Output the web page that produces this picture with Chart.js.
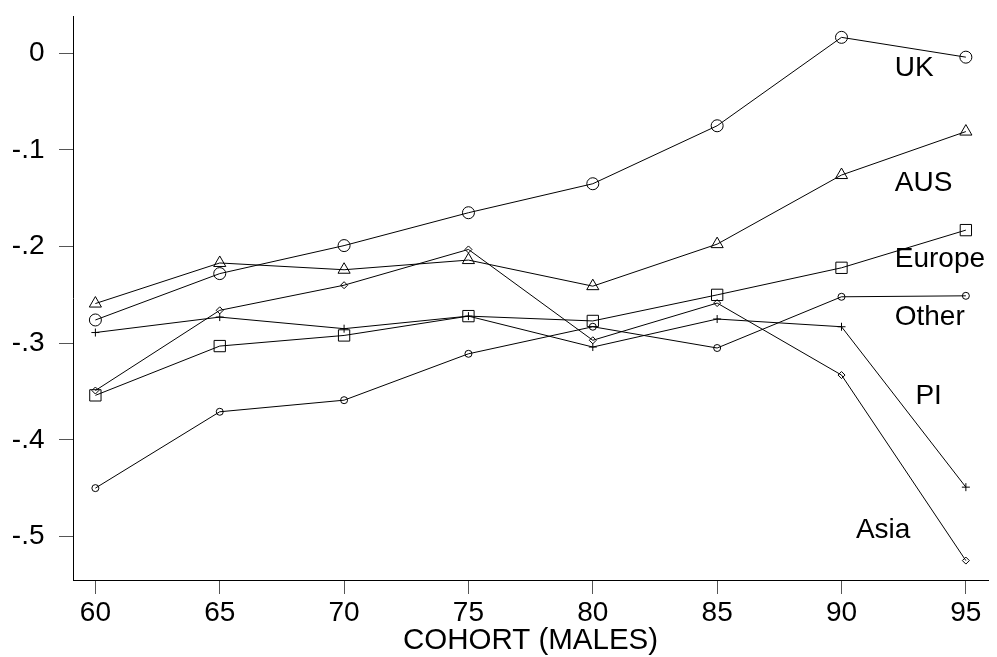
<!DOCTYPE html>
<html>
<head>
<meta charset="utf-8">
<script src="https://cdn.jsdelivr.net/npm/chart.js@4"></script>
<style>
  html, body { margin: 0; padding: 0; background: #fff; }
  #wrap { width: 997px; height: 657px; }
</style>
</head>
<body>
<div id="wrap"><canvas id="cohortChart" width="997" height="657"></canvas></div>
<script>
// cohorts on the x axis
const cohorts = [60, 65, 70, 75, 80, 85, 90, 95];

// one series per birthplace group
const ukVals     = [-0.276, -0.228, -0.199, -0.165, -0.135, -0.075, 0.0165, -0.004];
const ausVals    = [-0.259, -0.217, -0.224, -0.214, -0.241, -0.1975, -0.126, -0.081];
const europeVals = [-0.354, -0.303, -0.292, -0.272, -0.277, -0.250, -0.222, -0.183];
const otherVals  = [-0.450, -0.371, -0.359, -0.311, -0.283, -0.305, -0.252, -0.251];
const piVals     = [-0.289, -0.273, -0.285, -0.272, -0.304, -0.275, -0.283, -0.449];
const asiaVals   = [-0.349, -0.266, -0.240, -0.203, -0.297, -0.2585, -0.333, -0.525];

const yTickValues = [0, -0.1, -0.2, -0.3, -0.4, -0.5];
const yTickLabels = ['0', '-.1', '-.2', '-.3', '-.4', '-.5'];

// group names written next to the right end of each line, in data units
const groupNames = ['UK', 'AUS', 'Europe', 'Other', 'PI', 'Asia'];
const nameX = [92.14, 92.14, 92.14, 92.14, 92.97, 90.58];
const nameY = [-0.0152, -0.135, -0.2135, -0.2737, -0.355, -0.4935];

const FONT = 'Liberation Sans, Arial, Helvetica, sans-serif';

function toPoints(vals) {
    return vals.map((v, i) => ({ x: cohorts[i], y: v }));
}

function series(label, vals, style, radius) {
    return {
        label: label,
        data: toPoints(vals),
        borderColor: '#000',
        borderWidth: 1,
        pointStyle: style,
        pointRadius: radius,
        pointBorderColor: '#000',
        pointBackgroundColor: 'rgba(0,0,0,0)',
        pointBorderWidth: 1,
        fill: false,
        tension: 0
    };
}

const groupLabels = {
    id: 'groupLabels',
    afterDatasetsDraw(chart) {
        const ctx = chart.ctx;
        const xs = chart.scales.x, ys = chart.scales.y;
        ctx.save();
        ctx.fillStyle = '#000';
        ctx.font = '28px ' + FONT;
        ctx.textAlign = 'left';
        ctx.textBaseline = 'middle';
        groupNames.forEach((name, i) => {
            ctx.fillText(name, xs.getPixelForValue(nameX[i]), ys.getPixelForValue(nameY[i]));
        });
        ctx.restore();
    }
};

const ctx = document.getElementById('cohortChart').getContext('2d');
new Chart(ctx, {
    type: 'line',
    data: {
        datasets: [
            series('UK', ukVals, 'circle', 6),
            series('AUS', ausVals, 'triangle', 7),
            series('Europe', europeVals, 'rect', 8),
            series('Other', otherVals, 'circle', 3.5),
            series('PI', piVals, 'cross', 4),
            series('Asia', asiaVals, 'rectRot', 3.5)
        ]
    },
    options: {
        responsive: false,
        animation: false,
        events: [],
        layout: { padding: { top: 16, right: 2, left: 0, bottom: 0 } },
        plugins: {
            legend: { display: false },
            tooltip: { enabled: false }
        },
        scales: {
            x: {
                type: 'linear',
                min: 59.1,
                max: 95.89,
                afterBuildTicks(scale) {
                    scale.ticks = cohorts.map(v => ({ value: v }));
                },
                afterFit(scale) {
                    scale.height = 77;
                },
                border: { display: true, color: '#000', width: 1 },
                grid: {
                    drawOnChartArea: false,
                    drawTicks: true,
                    tickLength: 14,
                    tickColor: '#555'
                },
                ticks: {
                    color: '#000',
                    padding: 2,
                    maxRotation: 0,
                    font: { family: FONT, size: 28 },
                    callback: v => String(v)
                },
                title: {
                    display: true,
                    text: 'COHORT (MALES)',
                    color: '#000',
                    padding: { top: 0, bottom: -2 },
                    font: { family: FONT, size: 29.5 }
                }
            },
            y: {
                type: 'linear',
                min: -0.5451,
                max: 0.0386,
                afterBuildTicks(scale) {
                    scale.ticks = yTickValues.map(v => ({ value: v }));
                },
                afterFit(scale) {
                    scale.width = 73;
                    // no extra room above or below for the tick labels
                    scale.paddingTop = 0;
                    scale.paddingBottom = 0;
                },
                border: { display: true, color: '#000', width: 1 },
                grid: {
                    drawOnChartArea: false,
                    drawTicks: true,
                    tickLength: 14,
                    tickColor: '#555'
                },
                ticks: {
                    color: '#000',
                    padding: 14.5,
                    font: { family: FONT, size: 28 },
                    callback: (v, i) => yTickLabels[yTickValues.indexOf(v)]
                }
            }
        }
    },
    plugins: [groupLabels]
});
</script>
</body>
</html>
